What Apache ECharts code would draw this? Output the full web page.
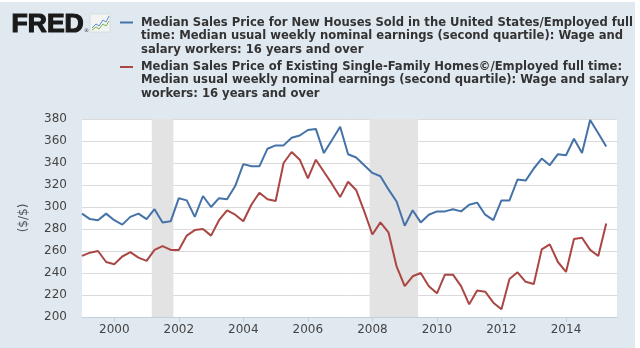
<!DOCTYPE html>
<html><head><meta charset="utf-8">
<script src="https://cdn.jsdelivr.net/npm/echarts@6/dist/echarts.min.js"></script>
<style>html,body{margin:0;padding:0;background:#fff}#c{width:640px;height:348px}</style>
</head><body><div id="c"></div>
<script>
const dates = [
 '1999-01-01','1999-04-01','1999-07-01','1999-10-01',
 '2000-01-01','2000-04-01','2000-07-01','2000-10-01',
 '2001-01-01','2001-04-01','2001-07-01','2001-10-01',
 '2002-01-01','2002-04-01','2002-07-01','2002-10-01',
 '2003-01-01','2003-04-01','2003-07-01','2003-10-01',
 '2004-01-01','2004-04-01','2004-07-01','2004-10-01',
 '2005-01-01','2005-04-01','2005-07-01','2005-10-01',
 '2006-01-01','2006-04-01','2006-07-01','2006-10-01',
 '2007-01-01','2007-04-01','2007-07-01','2007-10-01',
 '2008-01-01','2008-04-01','2008-07-01','2008-10-01',
 '2009-01-01','2009-04-01','2009-07-01','2009-10-01',
 '2010-01-01','2010-04-01','2010-07-01','2010-10-01',
 '2011-01-01','2011-04-01','2011-07-01','2011-10-01',
 '2012-01-01','2012-04-01','2012-07-01','2012-10-01',
 '2013-01-01','2013-04-01','2013-07-01','2013-10-01',
 '2014-01-01','2014-04-01','2014-07-01','2014-10-01',
 '2015-01-01','2015-04-01'
];
const newHouses = [
 294,289,288,294, 288,284,291,294, 289,298,286,287,
 308,306,291,310, 300,308,307,319, 339,337,337,353,
 356,356,363,365, 370,371,349,361, 373,348,345,338,
 331,328,316,305, 283,297,286,293, 296,296,298,296,
 302,304,293,288, 306,306,325,324, 335,344,338,348,
 347,362,349,379, 367,355
];
const existingHomes = [
 255.5,258.5,260,250, 248,255,259,254, 251,261,264.5,261,
 261,274,279,280, 274,288,297,293, 287,302,313,307,
 305.5,340,350,343, 326,343,332,321, 309,323,315.5,296,
 275,286,277,246, 228,237,240,228, 221.5,238.5,238.5,228,
 211.5,224,223,213, 207,234.5,240.6,232, 230,261.5,266,250,
 241,271,272,261, 255.5,285
];
const recessions = [['2001-03-01','2001-11-01'],['2007-12-01','2009-06-01']];
const xTickYears = [2000, 2002, 2004, 2006, 2008, 2010, 2012, 2014];
const yMin = 200, yMax = 380, yStep = 20;
const xStart = '1999-01-01', xEnd = '2015-08-01';
const seriesNames = [
 'Median Sales Price for New Houses Sold in the United States/Employed full time: Median usual weekly nominal earnings (second quartile): Wage and salary workers: 16 years and over',
 'Median Sales Price of Existing Single-Family Homes©/Employed full time: Median usual weekly nominal earnings (second quartile): Wage and salary workers: 16 years and over'
];
const legendLines1 = [
 'Median Sales Price for New Houses Sold in the United States/Employed full',
 'time: Median usual weekly nominal earnings (second quartile): Wage and',
 'salary workers: 16 years and over'
];
const legendLines2 = [
 'Median Sales Price of Existing Single-Family Homes©/Employed full time:',
 'Median usual weekly nominal earnings (second quartile): Wage and salary',
 'workers: 16 years and over'
];
const yAxisName = '($/$)';
const colors = ['#4572A7', '#AA4643'];

// decimal-year extent of the time axis, used only by the label/tick axis
function decYear(s) {
  const d = new Date(s + 'T00:00:00');
  const y = d.getFullYear();
  const a = new Date(y, 0, 1).getTime(), b = new Date(y + 1, 0, 1).getTime();
  return y + (d.getTime() - a) / (b - a);
}

const chart = echarts.init(document.getElementById('c'), null, {renderer: 'canvas'});
const legendFont = {fontFamily: 'DejaVu Sans Condensed', fontWeight: 'bold', fontSize: 12.9, lineHeight: 13.4, fill: '#333'};

chart.setOption({
  animation: false,
  backgroundColor: '#e1e9f0',
  grid: {left: 82, right: 23, top: 119, bottom: 31, show: true, backgroundColor: '#ffffff', borderWidth: 0},
  xAxis: [
    {
      type: 'time', min: xStart, max: xEnd,
      axisLine: {show: false}, axisTick: {show: false}, axisLabel: {show: false}, splitLine: {show: false}
    },
    {
      type: 'value', position: 'bottom', min: decYear(xStart), max: decYear(xEnd),
      axisLine: {show: true, onZero: false, lineStyle: {color: '#c0d0e0', width: 1}},
      axisTick: {show: true, length: 5, lineStyle: {color: '#c0d0e0'}, customValues: xTickYears},
      axisLabel: {customValues: xTickYears, margin: 7, color: '#444', fontFamily: 'DejaVu Sans', fontSize: 12,
        hideOverlap: false, formatter: v => String(v)},
      splitLine: {show: false}
    }
  ],
  yAxis: {
    type: 'value', min: yMin, max: yMax, interval: yStep,
    name: yAxisName, nameLocation: 'middle', nameGap: 52,
    nameTextStyle: {color: '#555', fontFamily: 'DejaVu Sans', fontSize: 12},
    axisLine: {show: false}, axisTick: {show: false},
    axisLabel: {margin: 15, color: '#444', fontFamily: 'DejaVu Sans', fontSize: 12},
    splitLine: {lineStyle: {color: '#dadada', width: 1}}
  },
  series: [
    {
      type: 'line', name: 'recessions', xAxisIndex: 0, data: [], z: 1, silent: true,
      markArea: {silent: true, itemStyle: {color: '#e3e3e3'},
        data: recessions.map(r => [{xAxis: r[0]}, {xAxis: r[1]}])}
    },
    {
      type: 'line', name: seriesNames[0], xAxisIndex: 0, z: 3, showSymbol: false, symbol: 'none',
      lineStyle: {color: colors[0], width: 2}, itemStyle: {color: colors[0]},
      data: dates.map((d, i) => [d, newHouses[i]])
    },
    {
      type: 'line', name: seriesNames[1], xAxisIndex: 0, z: 3, showSymbol: false, symbol: 'none',
      lineStyle: {color: colors[1], width: 2}, itemStyle: {color: colors[1]},
      data: dates.map((d, i) => [d, existingHomes[i]])
    }
  ],
  graphic: [
    {type: 'rect', shape: {x: 0, y: 0, width: 640, height: 2}, style: {fill: '#ffffff'}, silent: true},
    {type: 'rect', shape: {x: 635, y: 0, width: 5, height: 348}, style: {fill: '#ffffff'}, silent: true},
    {type: 'text', left: 11, top: 11, style: {text: 'FRED', fontFamily: 'Liberation Sans', fontWeight: 'bold', fontSize: 26.5, fill: '#1a1a1a', stroke: '#1a1a1a', lineWidth: 1.2}},
    {type: 'text', left: 84, top: 28, style: {text: '®', fontFamily: 'DejaVu Sans', fontSize: 5, fill: '#333'}},
    {type: 'rect', shape: {x: 90, y: 14, width: 20, height: 18}, style: {fill: '#f2f4f4', stroke: '#c8cccc', lineWidth: 0.5}},
    {type: 'polyline', shape: {points: [[92, 28], [96, 24], [99, 26], [103, 20], [106, 22], [109, 16]]}, style: {stroke: '#5b8fc7', lineWidth: 1, fill: null}},
    {type: 'polyline', shape: {points: [[92, 30], [96, 27], [99, 29], [103, 24], [106, 26], [109, 21]]}, style: {stroke: '#7ab648', lineWidth: 1, fill: null}},
    {type: 'line', shape: {x1: 120, y1: 22.5, x2: 133, y2: 22.5}, style: {stroke: colors[0], lineWidth: 2}},
    {type: 'line', shape: {x1: 120, y1: 67, x2: 133, y2: 67}, style: {stroke: colors[1], lineWidth: 2}},
    {type: 'text', left: 141, top: 16, style: Object.assign({text: legendLines1.join('\n')}, legendFont)},
    {type: 'text', left: 141, top: 60, style: Object.assign({text: legendLines2.join('\n')}, legendFont)}
  ]
});
</script>
</body></html>
